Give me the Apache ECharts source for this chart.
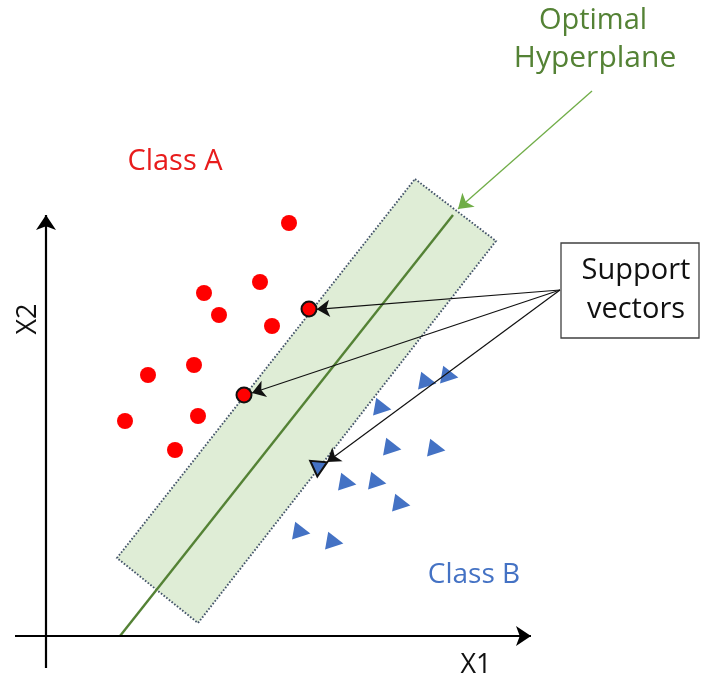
<!DOCTYPE html>
<html><head><meta charset="utf-8">
<script src="https://cdn.jsdelivr.net/npm/echarts@6/dist/echarts.min.js"></script>
<style>html,body{margin:0;padding:0;background:#fff}#c{width:702px;height:675px}</style>
</head><body><div id="c"></div>
<script>
// Data (X1, X2 units)
const classA = [[24.3,41.3],[21.4,35.4],[15.8,34.3],[17.3,32.1],[22.6,31.0],[14.8,27.1],[10.2,26.1],[7.9,21.5],[15.2,22.0],[12.9,18.6]];
const classASupport = [[26.3,32.7],[19.8,24.1]];
const classB = [[38.2,25.4],[40.4,26.0],[33.7,22.8],[34.7,18.8],[39.1,18.7],[30.2,15.3],[33.2,15.4],[35.6,13.2],[25.6,10.4],[28.9,9.4]];
const classBSupport = [[27.2,16.7]];
const marginBand = [[36.9,45.7],[45.0,39.5],[15.2,1.3],[7.1,7.8]];
const hyperplane = [[7.4,0],[40.7,42.1]];
const axisX1 = [[-3.1,0],[48.5,0]];
const axisX2 = [[0,-3.2],[0,42.1]];
const hyperplaneCallout = [[54.6,54.5],[41.2,42.7]];
const supportCalloutFrom = [51.4,34.6];
const supportCalloutTo = [[27.07,32.67],[20.6,24.3],[28.1,17.4]];

const FONT = '"Open Sans", Lato, sans-serif';
const chart = echarts.init(document.getElementById('c'), null, {renderer:'canvas'});
function txt(text, x, y, size, color, rot){
  return {type:'text', x:x, y:y, rotation: rot||0, z:100,
    style:{text:text, fill:color, font: size+'px '+FONT, textAlign:'center', textVerticalAlign:'middle'}};
}
chart.setOption({
  animation:false,
  backgroundColor:'#fff',
  grid:{left:0,right:0,top:0,bottom:0},
  xAxis:{type:'value',min:-4.6,max:65.6,show:false},
  yAxis:{type:'value',min:-3.9,max:63.6,show:false},
  graphic:[
    {type:'rect', shape:{x:561,y:243,width:138,height:95}, style:{fill:'#fff',stroke:'#404040',lineWidth:1.3}, z:50},
    txt('Support',636,271,29,'#111'),
    txt('vectors',636,310,29,'#111'),
    txt('Class A',175,162,29,'#e81c1c'),
    txt('Class B',474,575,28,'#4472c4'),
    txt('X1',476,665,27,'#111'),
    txt('X2',28,319,27,'#111',Math.PI/2),
    txt('Optimal',593,21,29,'#548235'),
    txt('Hyperplane',595,58,30,'#548235')
  ],
  series:[
    {type:'custom', coordinateSystem:'cartesian2d', data:[0], z:1,
     renderItem:function(params, api){
       const pts = marginBand.map(p=>api.coord(p));
       return {type:'polygon', shape:{points:pts}, style:{fill:'#dfedd6', stroke:'#44546a', lineWidth:1.9, lineDash:[1.6,1.8]}};
     }},
    {type:'lines', coordinateSystem:'cartesian2d', z:2, symbol:'none',
     lineStyle:{color:'#548235', width:2.4, opacity:1},
     data:[{coords:hyperplane}]},
    {type:'lines', coordinateSystem:'cartesian2d', z:2, symbol:['none','arrow'], symbolSize:15,
     lineStyle:{color:'#000', width:2.2, opacity:1},
     data:[{coords:axisX1},{coords:axisX2}]},
    {type:'lines', coordinateSystem:'cartesian2d', z:3, symbol:['none','arrow'], symbolSize:14,
     lineStyle:{color:'#70ad47', width:1.3, opacity:1},
     data:[{coords:hyperplaneCallout}]},
    {type:'scatter', z:4, symbol:'circle', symbolSize:16, itemStyle:{color:'#ff0000', opacity:1}, data:classA},
    {type:'scatter', z:4, symbol:'circle', symbolSize:15, itemStyle:{color:'#ff0000', borderColor:'#111', borderWidth:2, opacity:1}, data:classASupport},
    {type:'scatter', z:4, symbol:'triangle', symbolSize:[18,17], symbolRotate:-100, itemStyle:{color:'#4472c4', opacity:1}, data:classB},
    {type:'scatter', z:4, symbol:'triangle', symbolSize:[17,15], symbolRotate:175, itemStyle:{color:'#4472c4', borderColor:'#111', borderWidth:2, opacity:1}, data:classBSupport},
    {type:'lines', coordinateSystem:'cartesian2d', z:5, symbol:['none','arrow'], symbolSize:13,
     lineStyle:{color:'#111', width:1.2, opacity:1},
     data:supportCalloutTo.map(t=>({coords:[supportCalloutFrom,t]}))}
  ]
});
</script></body></html>
